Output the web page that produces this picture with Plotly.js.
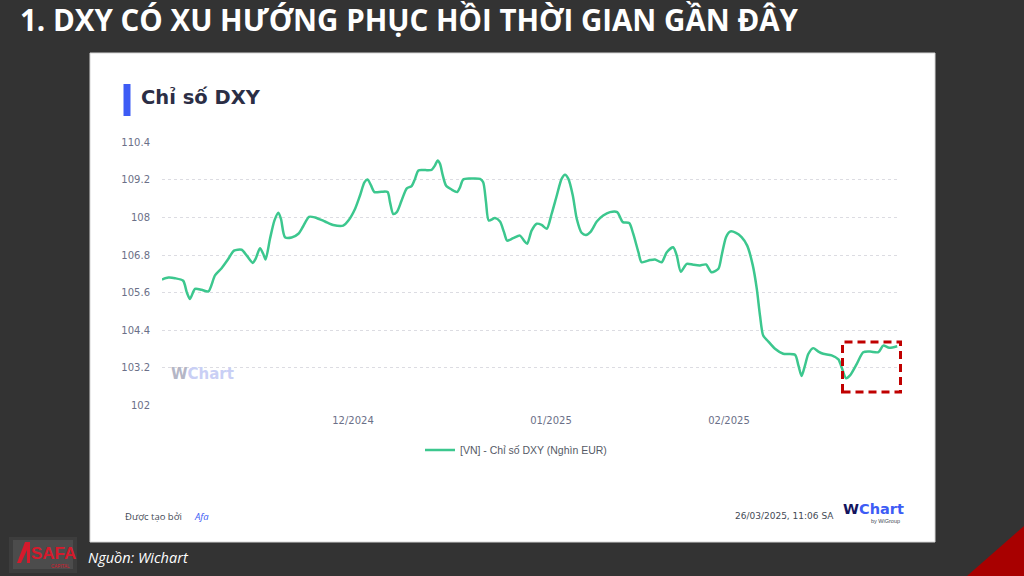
<!DOCTYPE html>
<html>
<head>
<meta charset="utf-8">
<script src="https://cdn.plot.ly/plotly-3.0.1.min.js"></script>
<style>
html,body{margin:0;padding:0;background:#333333;}
#chart{width:1024px;height:576px;}
</style>
</head>
<body>
<div id="chart"></div>
<script>
// ---- data ----
// x = session index along the time axis, y = DXY value
const sessionIdx = [0,1.6,3.25,5.3,6.2,7.0,8.25,9.9,11.6,13.25,14.9,16.6,18.0,19.9,21.2,22.7,23.4,24.5,25.3,25.9,27.0,28.1,29.1,29.75,30.75,32.4,34.1,35.3,36.75,38.25,40.75,42.8,45.3,46.6,48.25,49.5,50.6,51.4,52.25,53.1,54.9,56.4,57.0,57.8,58.7,59.9,61.2,62.4,63.25,64.1,65.75,67.4,68.25,68.9,69.5,70.2,71.0,72.4,73.8,74.5,75.3,77.0,79.5,80.3,81.0,81.7,83.25,84.5,85.5,86.3,87.8,89.5,90.5,91.3,92.4,93.7,94.9,96.2,97.4,98.7,99.9,100.75,101.6,102.7,103.7,104.9,106.0,107.2,108.7,110.3,112.0,113.8,115.2,116.8,117.8,119.1,119.9,122.0,123.25,124.9,126.2,127.8,128.7,129.7,131.2,132.8,134.5,136.0,137.4,139.1,139.9,141.0,142.0,143.5,144.9,146.3,147.7,148.7,149.5,150.3,151.6,153.25,155.3,158.25,159.1,159.9,160.75,161.6,162.8,164.1,165.3,167.4,169.1,169.9,171.0,172.0,173.7,175.3,177.0,179.1,180.3,181.8,183.8];
const dxyValues = [106.02,106.08,106.06,105.98,105.61,105.40,105.72,105.69,105.64,106.15,106.38,106.68,106.94,106.97,106.78,106.55,106.68,107.02,106.84,106.66,107.32,107.90,108.15,107.95,107.37,107.36,107.48,107.72,108.02,108.00,107.87,107.76,107.74,107.90,108.27,108.70,109.12,109.21,109.02,108.81,108.82,108.81,108.49,108.11,108.17,108.54,108.93,109.00,109.23,109.50,109.51,109.52,109.66,109.82,109.71,109.34,109.02,108.89,108.81,108.96,109.21,109.24,109.23,109.12,108.49,107.90,107.98,107.87,107.53,107.26,107.34,107.42,107.26,107.16,107.58,107.80,107.76,107.64,108.11,108.70,109.23,109.36,109.23,108.70,107.95,107.51,107.44,107.55,107.87,108.06,108.17,108.17,107.85,107.82,107.48,106.89,106.57,106.64,106.66,106.57,106.89,107.05,106.78,106.27,106.52,106.49,106.47,106.50,106.25,106.36,106.78,107.37,107.55,107.51,107.37,107.10,106.47,105.72,104.87,104.23,104.04,103.81,103.65,103.62,103.28,102.94,103.28,103.65,103.83,103.72,103.65,103.60,103.47,103.22,102.87,102.96,103.33,103.70,103.72,103.70,103.91,103.84,103.89];
const xTickVals = [47.75, 97.25, 141.75];
const xTickText = ["12/2024", "01/2025", "02/2025"];
const yTickVals = [102, 103.2, 104.4, 105.6, 106.8, 108, 109.2, 110.4];
const yTickText = ["102", "103.2", "104.4", "105.6", "106.8", "108", "109.2", "110.4"];
const seriesName = "[VN] - Chỉ số DXY (Nghìn EUR)";
const pageTitle = "1. DXY CÓ XU HƯỚNG PHỤC HỒI THỜI GIAN GẦN ĐÂY";
const chartTitle = "Chỉ số DXY";

// ---- helpers for pixel placement of decorations ----
const W = 1024, H = 576;
const px = v => v / W;
const py = v => 1 - v / H;

const trace = {
  x: sessionIdx,
  y: dxyValues,
  type: 'scatter',
  mode: 'lines',
  name: seriesName,
  line: {color: '#3cc78e', width: 2.5, shape: 'spline', smoothing: 0.7},
  hoverinfo: 'skip'
};

const layout = {
  width: W, height: H,
  margin: {l: 0, r: 0, t: 0, b: 0},
  paper_bgcolor: '#333333',
  plot_bgcolor: 'rgba(0,0,0,0)',
  showlegend: true,
  legend: {
    orientation: 'h', x: px(516), xanchor: 'center', y: py(450), yanchor: 'middle',
    itemwidth: 30,
    font: {family: 'Liberation Sans, Arial, sans-serif', size: 10.5, color: '#555a66'},
    bgcolor: 'rgba(0,0,0,0)'
  },
  xaxis: {
    domain: [px(162), px(900)],
    range: [0, 184.5],
    tickvals: xTickVals, ticktext: xTickText,
    showgrid: false, zeroline: false, showline: false,
    ticks: 'outside', ticklen: 5, tickcolor: 'rgba(0,0,0,0)',
    tickfont: {family: 'DejaVu Sans, sans-serif', size: 10, color: '#6b7088'},
    fixedrange: true
  },
  yaxis: {
    domain: [py(405.8), py(141.9)],
    range: [101.99, 110.41],
    tickvals: yTickVals, ticktext: yTickText,
    showgrid: true, gridcolor: '#dcdce2', griddash: 'dot', gridwidth: 1,
    zeroline: false, showline: false,
    ticks: 'outside', ticklen: 9, tickcolor: 'rgba(0,0,0,0)',
    tickfont: {family: 'DejaVu Sans, sans-serif', size: 10, color: '#6b7088'},
    fixedrange: true
  },
  shapes: [
    // white card
    {type: 'rect', xref: 'paper', yref: 'paper', x0: px(90), x1: px(935), y0: py(542), y1: py(53),
     fillcolor: '#ffffff', line: {color: '#d6d6d6', width: 1}, layer: 'below'},
    // blue title marker
    {type: 'rect', xref: 'paper', yref: 'paper', x0: px(123.5), x1: px(130.5), y0: py(116), y1: py(84),
     fillcolor: '#3d5cf5', line: {width: 0}, layer: 'above'},
    // red dashed highlight box
    {type: 'rect', xref: 'paper', yref: 'paper', x0: px(842.5), x1: px(900.5), y0: py(392), y1: py(342),
     fillcolor: 'rgba(0,0,0,0)', line: {color: '#c00000', width: 3, dash: '8px,5px'}, layer: 'above'},
    // red corner triangle
    {type: 'path', xref: 'paper', yref: 'paper',
     path: `M ${px(967)} ${py(576)} L ${px(1024)} ${py(526)} L ${px(1024)} ${py(576)} Z`,
     fillcolor: '#a80000', line: {width: 0}, layer: 'above'},
    // soft logo glow
    {type: 'rect', xref: 'paper', yref: 'paper', x0: px(9), x1: px(77), y0: py(573), y1: py(537),
     fillcolor: 'rgba(200,200,200,0.07)', line: {width: 0}, layer: 'above'},
    {type: 'rect', xref: 'paper', yref: 'paper', x0: px(13), x1: px(73), y0: py(569), y1: py(540),
     fillcolor: 'rgba(220,220,220,0.10)', line: {width: 0}, layer: 'above'},
    // stylized A of logo
    {type: 'path', xref: 'paper', yref: 'paper',
     path: `M ${px(17)} ${py(563)} L ${px(25)} ${py(542)} L ${px(30)} ${py(542)} L ${px(30)} ${py(563)} L ${px(27)} ${py(563)} L ${px(27)} ${py(550)} L ${px(21)} ${py(563)} Z`,
     fillcolor: '#d61a2c', line: {width: 0}, layer: 'above'}
  ],
  annotations: [
    {text: pageTitle, xref: 'paper', yref: 'paper', x: px(18), y: py(19), xanchor: 'left', yanchor: 'middle',
     showarrow: false, font: {family: 'Open Sans, sans-serif', size: 29.5, weight: 700, color: '#ffffff'}},
    {text: chartTitle, xref: 'paper', yref: 'paper', x: px(139), y: py(97), xanchor: 'left', yanchor: 'middle',
     showarrow: false, font: {family: 'DejaVu Sans, sans-serif', size: 19.5, weight: 700, color: '#2b2e45'}},
    {text: '<span style="color:#b4b6c6">W</span><span style="color:#c9cff5">Chart</span>', xref: 'paper', yref: 'paper',
     x: px(169), y: py(374), xanchor: 'left', yanchor: 'middle', showarrow: false,
     font: {family: 'DejaVu Sans, sans-serif', size: 15, weight: 700}},
    {text: 'Được tạo bởi', xref: 'paper', yref: 'paper', x: px(123), y: py(516), xanchor: 'left', yanchor: 'middle',
     showarrow: false, font: {family: 'Open Sans, sans-serif', size: 9.5, color: '#444a55'}},
    {text: 'Afa', xref: 'paper', yref: 'paper', x: px(192), y: py(516), xanchor: 'left', yanchor: 'middle',
     showarrow: false, font: {family: 'Open Sans, sans-serif', size: 9.5, style: 'italic', color: '#3d5cf5'}},
    {text: '26/03/2025, 11:06 SA', xref: 'paper', yref: 'paper', x: px(836), y: py(516), xanchor: 'right', yanchor: 'middle',
     showarrow: false, font: {family: 'DejaVu Sans, sans-serif', size: 9, color: '#444a55'}},
    {text: '<span style="color:#14145e">W</span><span style="color:#3d5cf5">Chart</span>', xref: 'paper', yref: 'paper',
     x: px(841), y: py(509), xanchor: 'left', yanchor: 'middle', showarrow: false,
     font: {family: 'DejaVu Sans, sans-serif', size: 14.5, weight: 700}},
    {text: 'by WiGroup', xref: 'paper', yref: 'paper', x: px(902), y: py(521), xanchor: 'right', yanchor: 'middle',
     showarrow: false, font: {family: 'Liberation Sans, sans-serif', size: 5.5, color: '#444a55'}},
    {text: 'SAFA', xref: 'paper', yref: 'paper', x: px(29), y: py(553), xanchor: 'left', yanchor: 'middle',
     showarrow: false, font: {family: 'Liberation Sans, sans-serif', size: 17, weight: 700, color: '#d61a2c'}},
    {text: 'CAPITAL', xref: 'paper', yref: 'paper', x: px(60), y: py(566), xanchor: 'center', yanchor: 'middle',
     showarrow: false, font: {family: 'Liberation Sans, sans-serif', size: 4.5, color: '#d61a2c'}},
    {text: 'Nguồn: Wichart', xref: 'paper', yref: 'paper', x: px(86), y: py(557), xanchor: 'left', yanchor: 'middle',
     showarrow: false, font: {family: 'Open Sans, sans-serif', size: 14.5, style: 'italic', color: '#ffffff'}}
  ]
};

Plotly.newPlot('chart', [trace], layout, {displayModeBar: false, staticPlot: true});
</script>
</body>
</html>
